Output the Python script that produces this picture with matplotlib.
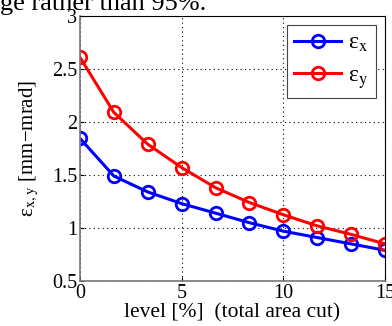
import matplotlib
matplotlib.use("Agg")
import matplotlib.pyplot as plt

level = [0, 1.667, 3.333, 5, 6.667, 8.333, 10, 11.667, 13.333, 15]
eps_x = [1.845, 1.49, 1.34, 1.23, 1.14, 1.05, 0.97, 0.91, 0.85, 0.79]
eps_y = [2.61, 2.09, 1.79, 1.57, 1.38, 1.24, 1.125, 1.02, 0.94, 0.85]
xticks = [0, 5, 10, 15]
yticks = [0.5, 1, 1.5, 2, 2.5, 3]
ytick_labels = ['0.5', '1', '1.5', '2', '2.5', '3']

plt.rcParams['font.family'] = ['Liberation Serif', 'DejaVu Serif']
plt.rcParams['mathtext.fontset'] = 'stix'

fig = plt.figure(figsize=(3.92, 3.26), dpi=100)
ax = fig.add_axes([80/392, 1-281/326, 305/392, 265/326])

ax.plot(level, eps_x, '-o', color='#0000ff', lw=2.2, ms=9, mfc='none', mew=2, label='ε$_{\\rm x}$')
ax.plot(level, eps_y, '-o', color='#ff0000', lw=2.2, ms=9, mfc='none', mew=2, label='ε$_{\\rm y}$')

ax.set_xlim(0, 15)
ax.set_ylim(0.5, 3)
ax.set_xticks(xticks)
ax.set_yticks(yticks)
ax.set_yticklabels(ytick_labels)
ax.tick_params(direction='in', labelsize=14.5, length=3, pad=2)
ax.grid(True, color='black', linestyle=(0, (1, 3)), lw=0.8)
for s in ['left', 'bottom']:
    ax.spines[s].set_color('#777777')
    ax.spines[s].set_linewidth(1.2)

ax.set_xlabel('level [%]  (total area cut)', fontsize=15.5, labelpad=0)
ax.set_ylabel('ε$_{\\rm x,y}$ [mm−mrad]', fontsize=15, labelpad=8)

leg = ax.legend(loc='upper right', fontsize=17, fancybox=False, edgecolor='#444444',
                handlelength=2.0, borderpad=0.3, labelspacing=0.45, handletextpad=0.3,
                framealpha=1, borderaxespad=0.4)
leg.get_frame().set_linewidth(0.8)

fig.text(0.0, 1 - 10/326, 'ge rather than 95%.', fontsize=19, ha='left', va='baseline')

fig.savefig('out.png', dpi=100)
